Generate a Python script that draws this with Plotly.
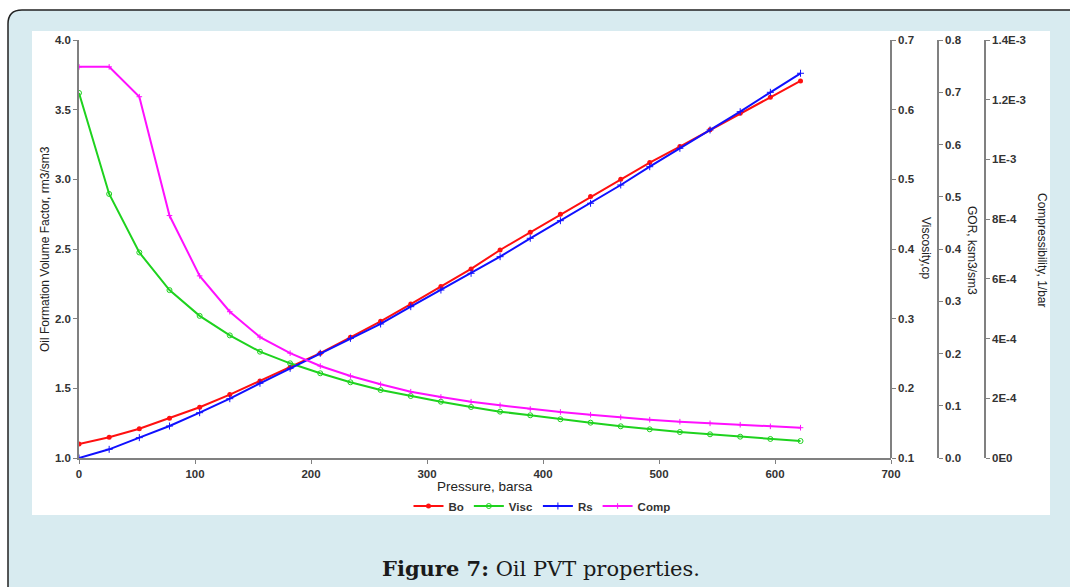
import plotly.graph_objects as go

W, H = 1070, 587

pressure = [0, 26, 52, 78, 104, 130, 156, 182, 208, 234, 260, 286, 312, 338, 363,
            389, 415, 441, 467, 492, 518, 544, 570, 596, 622]
bo = [1.100, 1.149, 1.210, 1.285, 1.364, 1.455, 1.553, 1.651, 1.752, 1.866, 1.981,
      2.105, 2.230, 2.357, 2.493, 2.620, 2.750, 2.876, 3.000, 3.120, 3.235, 3.355,
      3.474, 3.589, 3.706]
visc = [0.624, 0.479, 0.395, 0.341, 0.304, 0.276, 0.2526, 0.2359, 0.2216, 0.2087,
        0.1976, 0.189, 0.1808, 0.1732, 0.1665, 0.1613, 0.1556, 0.1507, 0.1455,
        0.1412, 0.1373, 0.134, 0.1306, 0.1273, 0.1244]
rs = [0.0, 0.0166, 0.0389, 0.0612, 0.0867, 0.1135, 0.143, 0.1717, 0.2004, 0.229,
      0.2565, 0.2896, 0.3215, 0.3535, 0.3853, 0.4205, 0.4542, 0.4875, 0.5225,
      0.5575, 0.5927, 0.6278, 0.6628, 0.6999, 0.7363]
comp = [1.31e-3, 1.31e-3, 1.21e-3, 8.12e-4, 6.10e-4, 4.90e-4, 4.05e-4, 3.51e-4,
        3.08e-4, 2.746e-4, 2.468e-4, 2.22e-4, 2.043e-4, 1.886e-4, 1.764e-4,
        1.641e-4, 1.541e-4, 1.45e-4, 1.362e-4, 1.284e-4, 1.216e-4, 1.161e-4,
        1.115e-4, 1.061e-4, 1.015e-4]

comp_tickvals = [0, 2e-4, 4e-4, 6e-4, 8e-4, 1e-3, 1.2e-3, 1.4e-3]
comp_ticktext = ["0E0", "2E-4", "4E-4", "6E-4", "8E-4", "1E-3", "1.2E-3", "1.4E-3"]


def px(x):
    return x / W


def py(y):
    return 1 - y / H


RED, GREEN, BLUE, MAG = "#ff1010", "#1ed21e", "#1010ff", "#ff10ff"
AXC = "#808080"
TICKFONT = dict(family="Liberation Sans, Arial", size=11.5, color="#333333", weight="bold")
TITLEFONT = dict(family="Liberation Sans, Arial", size=12, color="#222222")

fig = go.Figure()
fig.add_trace(go.Scatter(x=pressure, y=bo, name="Bo", mode="lines+markers",
                         line=dict(color=RED, width=2),
                         marker=dict(symbol="circle", size=5, color=RED), yaxis="y"))
fig.add_trace(go.Scatter(x=pressure, y=visc, name="Visc", mode="lines+markers",
                         line=dict(color=GREEN, width=2),
                         marker=dict(symbol="circle-open", size=5, color=GREEN), yaxis="y2"))
fig.add_trace(go.Scatter(x=pressure, y=rs, name="Rs", mode="lines+markers",
                         line=dict(color=BLUE, width=2),
                         marker=dict(symbol="cross-thin-open", size=5, color=BLUE,
                                     line=dict(color=BLUE, width=1)), yaxis="y3"))
fig.add_trace(go.Scatter(x=pressure, y=comp, name="Comp", mode="lines+markers",
                         line=dict(color=MAG, width=2),
                         marker=dict(symbol="cross-thin-open", size=4, color=MAG,
                                     line=dict(color=MAG, width=1)), yaxis="y4"))

ydom = [py(458), py(40)]
common = dict(showgrid=False, zeroline=False, showline=True, linecolor=AXC, linewidth=1.5,
              ticks="outside", ticklen=4, tickcolor=AXC, tickwidth=1, tickfont=TICKFONT,
              automargin=False)

fig.update_layout(
    width=W, height=H,
    margin=dict(l=0, r=0, t=0, b=0),
    paper_bgcolor="white",
    plot_bgcolor="rgba(0,0,0,0)",
    xaxis=dict(domain=[px(79), px(891)], range=[0, 700], dtick=100, anchor="y", **common),
    yaxis=dict(domain=ydom, range=[1, 4], dtick=0.5, tickformat=".1f", anchor="x", **common),
    yaxis2=dict(range=[0.1, 0.7], dtick=0.1, tickformat=".1f", overlaying="y", side="right",
                anchor="free", position=px(891), **common),
    yaxis3=dict(range=[0, 0.8], dtick=0.1, tickformat=".1f", overlaying="y", side="right",
                anchor="free", position=px(938), **common),
    yaxis4=dict(range=[0, 1.4e-3], tickvals=comp_tickvals, ticktext=comp_ticktext,
                overlaying="y", side="right", anchor="free", position=px(985), **common),
    showlegend=True,
    legend=dict(orientation="h", x=px(542), xanchor="center", y=py(506), yanchor="middle",
                font=dict(family="Liberation Sans, Arial", size=11.5, color="#333333", weight="bold"),
                bgcolor="rgba(0,0,0,0)", itemwidth=30, tracegroupgap=0),
)

# background frame and white chart panel
frame_path = (f"M 1.02,{py(10)} L {px(22)},{py(10)} Q {px(8)},{py(10)} {px(8)},{py(24)} "
              f"L {px(8)},-0.02 L 1.02,-0.02 Z")
fig.add_shape(type="path", path=frame_path, xref="paper", yref="paper",
              fillcolor="#d8ebf0", line=dict(color="#222222", width=1.5), layer="below")
fig.add_shape(type="rect", x0=px(32), x1=px(1050), y0=py(515), y1=py(31), xref="paper", yref="paper",
              fillcolor="white", line=dict(width=0), layer="below")

ann = [
    dict(text="Oil Formation Volume Factor, rm3/sm3", x=px(45), y=py(249), textangle=-90, size=12),
    dict(text="Viscosity,cp", x=px(926), y=py(248), textangle=90, size=12),
    dict(text="GOR, ksm3/sm3", x=px(972), y=py(250), textangle=90, size=12),
    dict(text="Compressibility, 1/bar", x=px(1042), y=py(250), textangle=90, size=12),
    dict(text="Pressure, barsa", x=px(485), y=py(486), textangle=0, size=13.5),
]
for a in ann:
    f = dict(TITLEFONT)
    f["size"] = a.pop("size")
    fig.add_annotation(xref="paper", yref="paper", showarrow=False, xanchor="center",
                       yanchor="middle", font=f, **a)

fig.add_annotation(xref="paper", yref="paper", x=px(541), y=py(568), showarrow=False,
                   xanchor="center", yanchor="middle",
                   text="<b>Figure 7:</b> Oil PVT properties.",
                   font=dict(family="DejaVu Serif", size=21, color="#1a1a1a"))

fig.write_html("out.html")
